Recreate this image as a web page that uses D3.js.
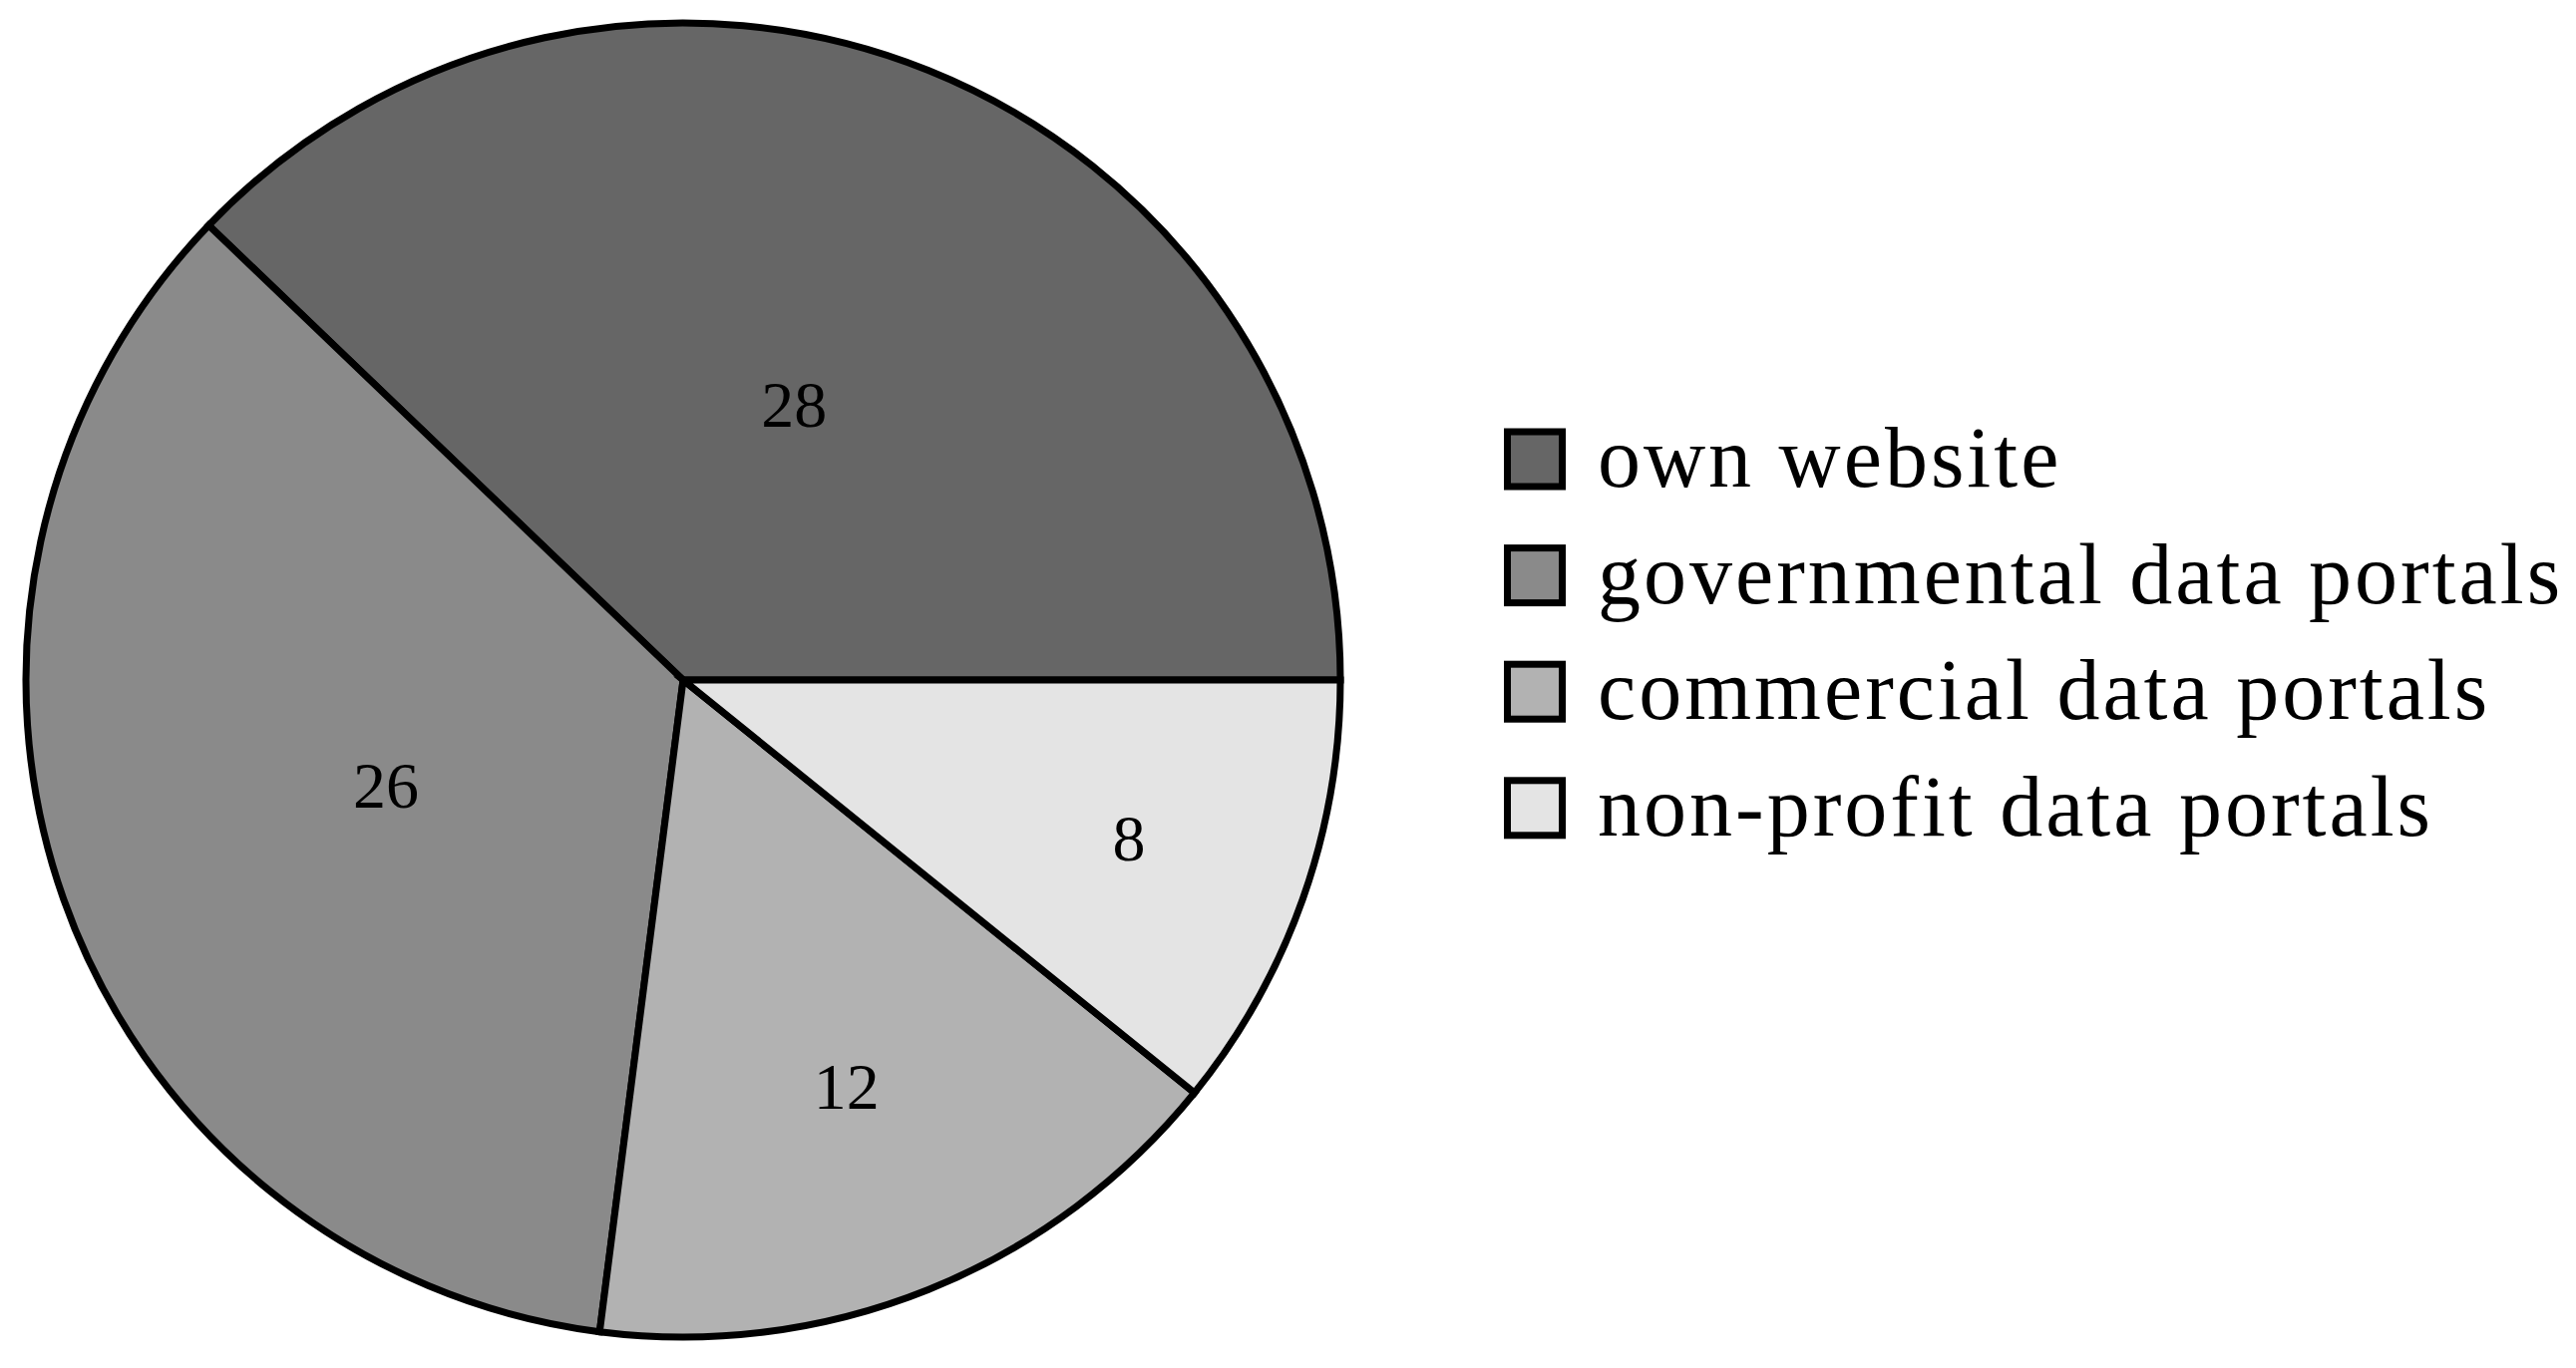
<!DOCTYPE html>
<html><head><meta charset="utf-8">
<script src="https://cdn.jsdelivr.net/npm/d3@7"></script>
<style>html,body{margin:0;padding:0;background:#fff;}svg{display:block;}</style>
</head><body>
<svg id="chart" width="2583" height="1372"></svg>
<script>
const categories = ["own website", "governmental data portals", "commercial data portals", "non-profit data portals"];
const values = [28, 26, 12, 8];
const colors = ["#666666", "#8a8a8a", "#b2b2b2", "#e4e4e4"];

const W = 2583, H = 1372;
const cx = 685, cy = 682, R = 659;
const svg = d3.select("#chart");
const font = "'Liberation Serif', 'Times New Roman', serif";

const pie = d3.pie().sort(null).value(d => d)
  .startAngle(Math.PI / 2).endAngle(Math.PI / 2 - 2 * Math.PI);
const arcs = pie(values);
const arc = d3.arc().innerRadius(0).outerRadius(R);

const g = svg.append("g").attr("transform", `translate(${cx},${cy})`);
g.selectAll("path").data(arcs).join("path")
  .attr("d", arc)
  .attr("fill", (d, i) => colors[i])
  .attr("stroke", "#000").attr("stroke-width", 7).attr("stroke-linejoin", "miter");

g.selectAll("text").data(arcs).join("text")
  .attr("transform", d => {
    const span = Math.abs(d.endAngle - d.startAngle);
    const k = (0.826 - 0.157 * span) * R;
    const a = (d.startAngle + d.endAngle) / 2;
    return `translate(${k * Math.sin(a)},${-k * Math.cos(a)})`;
  })
  .attr("text-anchor", "middle").attr("dy", "0.35em")
  .attr("font-family", font).attr("font-size", 66)
  .text(d => d.data);

const legend = svg.append("g");
const rowH = 116.6, y0 = 460.5, bx = 1539, bs = 55, tx = 1602;
const rows = legend.selectAll("g").data(categories).join("g")
  .attr("transform", (d, i) => `translate(0,${y0 + i * rowH})`);
rows.append("rect").attr("x", bx - bs / 2).attr("y", -bs / 2).attr("width", bs).attr("height", bs)
  .attr("fill", (d, i) => colors[i]).attr("stroke", "#000").attr("stroke-width", 7);
rows.append("text").attr("x", tx).attr("dy", "0.32em")
  .attr("font-family", font).attr("font-size", 86).attr("letter-spacing", 3).text(d => d);
</script>
</body></html>
